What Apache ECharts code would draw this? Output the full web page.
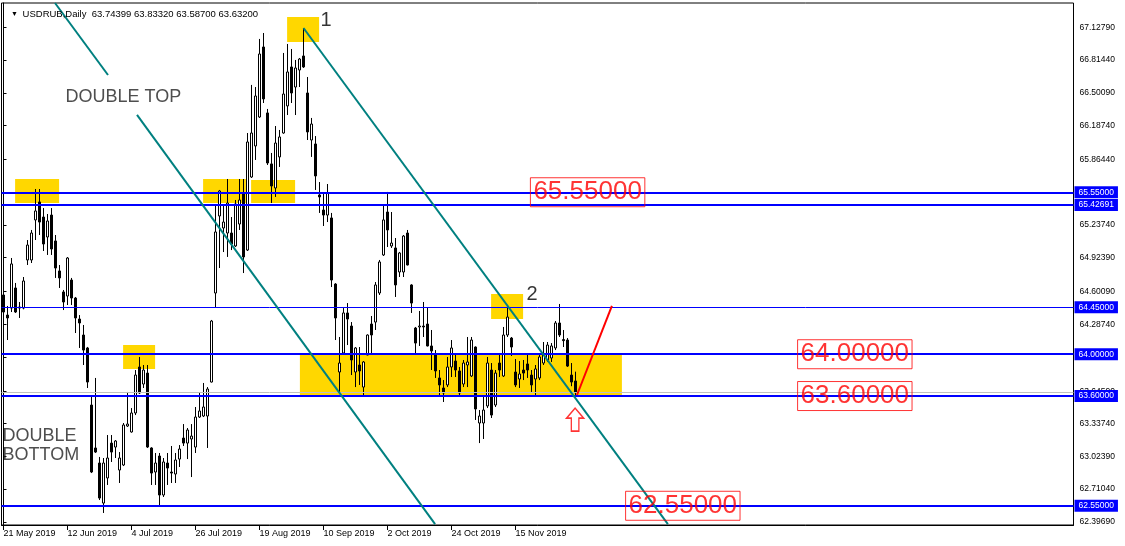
<!DOCTYPE html>
<html><head><meta charset="utf-8">
<script src="https://cdn.jsdelivr.net/npm/echarts@6/dist/echarts.min.js"></script>
<style>html,body{margin:0;padding:0;background:#fff}#c{width:1125px;height:546px}</style>
</head><body><div id="c"></div>
<script>
// ---------- data ----------
const symbolName = 'USDRUB,Daily';
const tickLabels = ['21 May 2019','12 Jun 2019','4 Jul 2019','26 Jul 2019','19 Aug 2019','10 Sep 2019','2 Oct 2019','24 Oct 2019','15 Nov 2019'];
const opens = [64.567,64.375,64.442,64.634,64.452,64.442,64.902,64.902,65.285,65.457,
65.313,65.122,65.332,65.084,64.797,64.596,64.557,64.710,64.538,64.337,
64.184,64.060,63.514,63.103,62.959,62.576,62.816,63.150,63.112,62.892,
62.940,63.313,63.256,63.438,63.878,63.715,63.820,63.103,62.873,63.026,
62.653,62.959,62.873,62.854,62.997,63.198,63.150,63.189,63.112,63.399,
63.409,63.409,63.734,64.586,65.323,65.208,65.160,65.160,65.036,65.246,
65.533,64.997,65.696,65.993,66.270,66.940,66.309,65.821,65.591,65.888,
66.117,66.376,66.749,66.557,66.720,66.854,66.500,66.050,66.012,65.524,
65.380,65.332,65.304,64.672,63.830,64.012,64.395,64.270,63.830,63.897,
63.686,63.993,64.289,64.308,64.586,64.950,65.361,65.036,65.017,64.787,
64.787,65.160,64.663,64.251,64.261,64.270,64.289,64.079,63.993,63.773,
63.677,63.706,63.878,63.935,63.840,63.715,63.897,63.792,64.069,63.342,
63.342,63.505,63.849,63.514,63.916,63.792,64.184,64.155,63.830,63.763,
63.849,63.907,63.801,63.763,63.773,63.916,63.945,63.964,64.060,64.299,
64.140,64.136,63.801,63.74399];
const highs = [64.615,64.462,64.921,64.682,64.500,64.739,65.093,65.189,65.581,65.581,
65.399,65.342,65.399,65.141,64.854,64.615,64.930,64.730,64.548,64.375,
64.280,64.070,63.591,63.773,63.017,63.007,63.227,63.227,63.179,63.064,
63.342,63.639,63.485,63.849,63.974,63.897,63.897,63.110,63.055,63.055,
63.007,63.055,63.122,63.055,63.131,63.332,63.294,63.332,63.495,63.629,
63.725,63.686,64.328,65.428,65.572,65.419,65.677,65.313,65.476,65.677,
65.677,66.117,66.577,66.557,67.017,67.074,66.347,65.926,66.184,66.146,
66.883,66.969,66.921,66.816,66.835,67.122,66.653,66.261,66.088,65.648,
65.543,65.629,65.352,64.680,64.165,64.442,64.490,64.308,64.069,64.069,
63.935,64.190,64.366,64.691,64.902,65.419,65.553,65.361,65.112,64.979,
65.141,65.189,64.670,64.261,64.414,64.500,64.452,64.232,64.040,63.849,
63.753,63.974,64.136,63.993,63.878,63.945,64.165,64.165,64.075,63.466,
63.591,63.974,63.916,63.849,64.012,64.261,64.462,64.165,63.954,63.935,
63.945,63.993,63.849,63.897,63.993,64.117,64.117,64.107,64.318,64.481,
64.232,64.155,63.916,63.83320];
const lows = [64.328,64.136,64.404,64.395,64.347,64.430,64.854,64.873,65.093,65.141,
64.988,64.950,64.950,64.730,64.634,64.423,64.471,64.471,64.203,64.060,
63.897,63.677,62.863,63.055,62.605,62.481,62.749,62.969,63.007,62.768,
62.930,63.304,63.250,63.418,63.620,63.677,63.103,62.749,62.749,62.557,
62.634,62.749,62.768,62.768,62.921,63.122,62.997,62.825,63.055,63.390,
63.399,63.103,63.730,64.452,64.825,64.978,64.931,64.997,65.026,65.189,
64.777,64.988,65.687,65.859,66.261,66.404,65.811,65.447,65.505,65.792,
66.110,66.289,66.404,66.289,66.557,66.740,66.050,65.888,65.572,65.352,
65.227,65.265,64.643,64.136,63.629,64.000,64.088,63.801,63.686,63.706,
63.591,63.990,63.993,64.232,64.567,64.940,65.026,65.017,64.548,64.739,
64.739,64.850,64.395,63.993,64.079,64.165,64.075,63.849,63.773,63.610,
63.543,63.686,63.782,63.782,63.610,63.686,63.686,63.782,63.371,63.150,
63.189,63.485,63.390,63.495,63.782,63.782,64.165,63.983,63.686,63.677,
63.753,63.773,63.639,63.610,63.753,63.897,63.926,63.926,64.040,64.165,
64.069,63.878,63.694,63.58700];
const closes = [64.404,64.347,64.864,64.404,64.442,64.701,65.045,65.160,65.371,65.265,
65.055,65.275,65.007,64.825,64.730,64.500,64.921,64.538,64.347,64.299,
64.040,63.734,62.873,63.064,62.624,62.959,63.007,63.064,63.170,63.007,
63.323,63.332,63.438,63.801,63.629,63.849,63.112,62.863,62.959,62.653,
62.969,62.911,62.863,62.988,63.093,63.150,63.275,63.217,63.399,63.457,
63.495,63.667,64.318,65.170,65.562,65.265,65.447,65.055,65.438,65.476,
64.931,66.031,66.117,66.471,66.873,66.443,65.830,65.610,66.021,66.079,
66.490,66.701,66.500,66.739,66.825,66.749,66.127,66.203,65.706,65.505,
65.332,65.543,64.710,64.347,63.916,64.395,64.337,63.945,64.060,63.840,
63.926,64.184,64.184,64.663,64.883,65.285,65.189,65.064,64.663,64.969,
65.131,64.854,64.490,64.107,64.270,64.261,64.079,64.031,63.840,63.706,
63.629,63.878,64.060,63.849,63.629,63.916,63.926,64.136,63.476,63.409,
63.466,63.916,63.418,63.820,63.849,64.184,64.356,64.069,63.706,63.811,
63.820,63.849,63.706,63.859,63.974,63.993,64.088,64.079,64.299,64.184,
64.130,63.887,63.734,63.63200];
const priceTicks = [67.1279,66.8144,66.5009,66.1874,65.8644,65.5509,65.2374,64.9239,64.6009,64.2874,63.9739,63.6459,63.3374,63.0239,62.7104,62.3969];
const levelLines = [65.55, 65.42691, 64.45, 64.00, 63.60, 62.55];
// annotation geometry in (bar index, price)
const zones = [[2.9,65.677,13.9,65.447],[49.9,65.677,60.6,65.447],[61.9,65.667,72.9,65.447],
  [29.9,64.088,37.9,63.859],[70.9,67.227,78.9,66.988],[121.9,64.577,129.9,64.337],[74.1,64.00,154.6,63.60]];
const channelSegments = [[[12.875,67.361],[26.125,66.672]],[[33.375,66.290],[107.9,62.375]],[[75,67.122],[166.1,62.375]]];
const projection = [[143.375,63.61],[152.1,64.462]];
const arrowPoint = [142.9,63.375];
const priceBoxes = [[131.6,65.55],[198.4,64.00],[198.4,63.60],[155.4,62.55]];
const notes = [{t:'DOUBLE TOP',x:15.375,p:66.462},{t:'DOUBLE\nBOTTOM',x:-0.375,p:63.122},{t:'1',x:79.1,p:67.189},{t:'2',x:130.6,p:64.576}];

// ---------- chart ----------
const SLOTS = 268;
const cats = Array.from({length: SLOTS}, (_, i) => String(i));
const candles = opens.map((o, i) => [o, closes[i], lows[i], highs[i]]);
const last = opens.length - 1;
const showTick = (idx) => idx % 16 === 0 && idx / 16 < tickLabels.length;
const FONT = '"Liberation Sans", Arial, sans-serif';

const chart = echarts.init(document.getElementById('c'), null, {renderer: 'canvas'});
const option = {
  animation: false,
  backgroundColor: '#fff',
  textStyle: {fontFamily: FONT},
  title: {
    left: 6, top: 4,
    text: '{t|▼} ' + symbolName + '  ' + [opens[last], highs[last], lows[last], closes[last]].map(v => v.toFixed(5)).join(' '),
    textStyle: {fontSize: 9.5, fontWeight: 'normal', color: '#000', fontFamily: FONT,
      rich: {t: {fontSize: 7, color: '#000', padding: [0, 2, 0, 0]}}}
  },
  grid: {left: 1.5, right: 51.5, top: 3, bottom: 21, show: true, borderColor: '#000', borderWidth: 1, backgroundColor: '#fff'},
  xAxis: [{
    type: 'category', data: cats, boundaryGap: true,
    axisLine: {show: true, lineStyle: {color: '#000', width: 1}},
    axisTick: {show: true, alignWithLabel: true, length: 5, interval: showTick, lineStyle: {color: '#000'}},
    axisLabel: {interval: showTick, formatter: (v, idx) => tickLabels[idx / 16] || '', align: 'left', fontSize: 9, color: '#000', margin: 4, fontFamily: FONT},
    splitLine: {show: false}
  }, {
    type: 'value', min: -0.5, max: SLOTS - 0.5, show: false
  }],
  yAxis: {
    type: 'value', position: 'right', min: 62.366, max: 67.361,
    axisLine: {show: true, lineStyle: {color: '#000'}},
    axisTick: {show: true, length: 3, customValues: priceTicks, lineStyle: {color: '#000'}},
    axisLabel: {customValues: priceTicks, formatter: v => v.toFixed(5), fontSize: 8.5, color: '#000', margin: 6, fontFamily: FONT},
    splitLine: {show: false}
  },
  series: [
    {
      type: 'line', xAxisIndex: 1, data: [], z: 1, silent: true,
      markArea: {silent: true, itemStyle: {color: '#FFD700'},
        data: zones.map(z => [{coord: [z[0], z[1]]}, {coord: [z[2], z[3]]}])}
    },
    {
      type: 'candlestick', xAxisIndex: 0, data: candles, barWidth: 2, z: 3,
      itemStyle: {color: '#fff', color0: '#000', borderColor: '#000', borderColor0: '#000', borderWidth: 1}
    },
    {
      type: 'line', xAxisIndex: 1, data: [], z: 4, silent: true,
      markLine: {
        silent: true, symbol: ['none', 'none'], animation: false, precision: 5,
        data: levelLines.map(v => ({yAxis: v, lineStyle: {color: '#0000ff', width: v === 64.45 ? 1 : 2, type: 'solid'}}))
          .concat([{yAxis: closes[last], lineStyle: {color: '#c0c0c0', width: 1, type: 'solid'}, label: {show: false}}]),
        label: {show: true, position: 'end', distance: 1, formatter: p => Number(p.value).toFixed(5),
          backgroundColor: '#0000ff', color: '#fff', fontSize: 8.5, padding: [2, 4, 1, 4], fontFamily: FONT}
      }
    },
    ...channelSegments.map(seg => ({
      type: 'line', xAxisIndex: 1, data: seg, symbol: 'none', z: 5, silent: true,
      lineStyle: {color: '#008080', width: 2}
    })),
    {
      type: 'line', xAxisIndex: 1, data: projection, symbol: 'none', z: 6, silent: true,
      lineStyle: {color: '#ff0000', width: 2}
    },
    {
      type: 'scatter', xAxisIndex: 1, data: [arrowPoint], z: 6, silent: true,
      symbol: 'path://M9,0 L18,10 L13,10 L13,23 L5,23 L5,10 L0,10 Z', symbolSize: [17, 23],
      itemStyle: {color: '#fff', borderColor: '#ff0000', borderWidth: 1.5}
    },
    {
      type: 'scatter', xAxisIndex: 1, z: 7, silent: true, symbolSize: 1,
      itemStyle: {color: 'rgba(0,0,0,0)'},
      data: priceBoxes,
      label: {show: true, position: 'right', distance: 0, formatter: p => p.value[1].toFixed(5),
        color: '#ff0000', fontSize: 26, lineHeight: 26, fontFamily: FONT,
        borderColor: '#ff0000', borderWidth: 1, padding: [2, 3, 1, 3]}
    },
    {
      type: 'scatter', xAxisIndex: 1, z: 7, silent: true, symbolSize: 1,
      itemStyle: {color: 'rgba(0,0,0,0)'},
      data: notes.map(n => ({value: [n.x, n.p], name: n.t,
        label: {fontSize: n.t.length < 2 ? 20 : 18, lineHeight: n.t.length < 2 ? 20 : 19, color: n.t.length < 2 ? '#000' : '#222'}})),
      label: {show: true, position: 'right', distance: 0, formatter: p => p.name, fontFamily: FONT}
    }
  ]
};
chart.setOption(option);
</script></body></html>
